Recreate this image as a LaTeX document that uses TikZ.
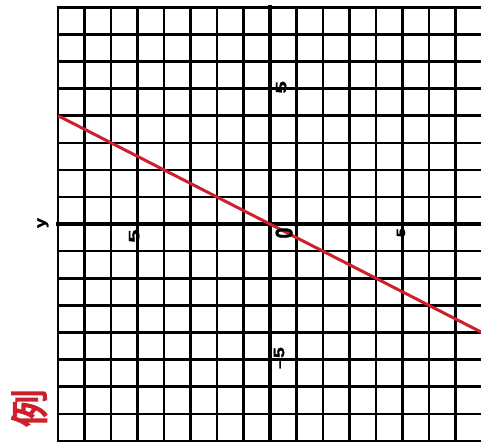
\documentclass[tikz,border=0pt]{standalone}
\usepackage{graphicx}
\usepackage{fontspec}
\setsansfont{Liberation Sans}[FakeBold=1.5]
\newfontfamily\cjkbold{Noto Sans CJK SC}[FakeBold=4]
\definecolor{graphred}{RGB}{206,32,44}
\newcommand{\wide}[2][1.5]{\scalebox{#1}[1]{#2}}

\begin{document}
\begin{tikzpicture}[x=26.5pt,y=27.1pt,
    gridline/.style={line width=2.5pt,line cap=rect},
    axisline/.style={line width=4pt,line cap=rect},
    numlabel/.style={font=\sffamily\bfseries\fontsize{15}{15}\selectfont,%
      rotate=90,inner sep=0pt}]
  \useasboundingbox (-10.19,-8.01) rectangle (7.96,8.27);
  % squared paper
  \foreach \i in {-8,...,8} {
    \draw[gridline] (\i,-8) -- (\i,8);
    \draw[gridline] (-8,\i) -- (8,\i);
  }
  % axes
  \coordinate (yend) at (-8,0);
  \coordinate (yfar) at (8,0);
  \coordinate (xend) at (0,8);
  \coordinate (xfar) at (0,-8);
  \draw[axisline] (yend) -- (yfar);
  \draw[axisline] (xfar) -- (xend);
  % the straight line
  \coordinate (lstart) at (-8,4);
  \coordinate (lstop) at (8,-4);
  \draw[graphred,line width=3pt] (lstart) -- (lstop);
  % labels
  \node[numlabel] (ylab) at (-8.57,0.04) {\wide[1.2]{y}};
  \node[numlabel] (xpos) at (0.42,5.05) {\wide{5}};
  \node[numlabel] (xneg) at (0.34,-4.94) {\wide[1.3]{\textendash5}};
  \node[numlabel] (ypos) at (-5.13,-0.44) {\wide[1.6]{5}};
  \node[numlabel,font=\sffamily\bfseries\fontsize{12}{12}\selectfont] (yneg)
    at (4.94,-0.41) {\wide[1.3]{-5}};
  \node[numlabel] (orig) at (0.53,-0.33) {\scalebox{1.3}[1.6]{0}};
  \node[font=\cjkbold\fontsize{38}{38}\selectfont,text=graphred,%
    rotate=90,inner sep=0pt] (li) at (-9.09,-6.79) {例};
\end{tikzpicture}
\end{document}
